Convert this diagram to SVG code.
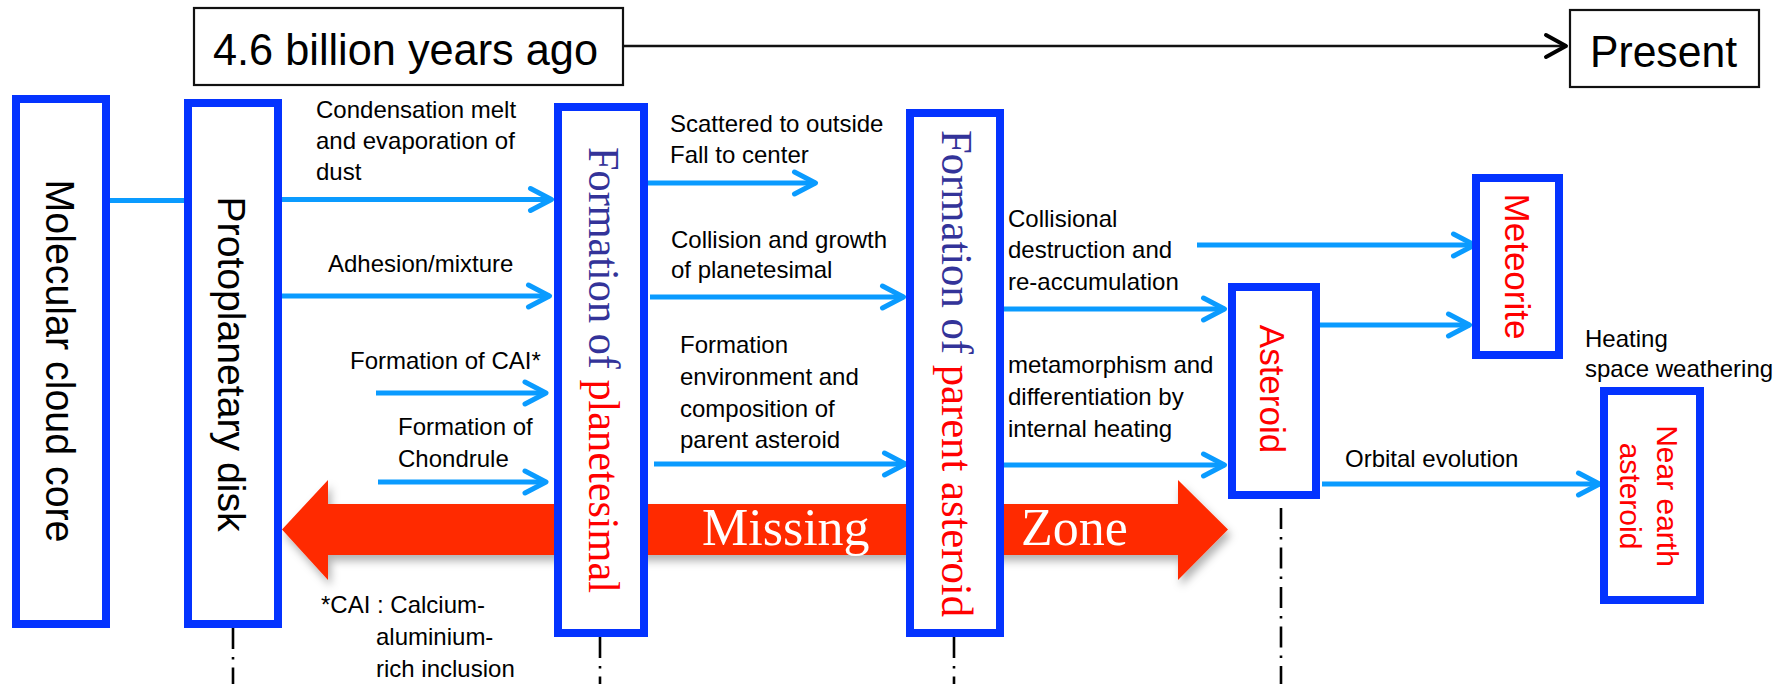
<svg xmlns="http://www.w3.org/2000/svg" width="1791" height="684" viewBox="0 0 1791 684">
<style>
.bg{fill:#ffffff}
.tbox{fill:#ffffff;stroke:#111111;stroke-width:2.2}
.ttl{font-family:"Liberation Sans",Arial,sans-serif;font-size:43.5px;fill:#000000}
.node{fill:#ffffff;stroke:#0433ff;stroke-width:8}
.vt{font-family:"Liberation Sans",Arial,sans-serif;fill:#000000}
.vs{font-family:"Liberation Serif","Times New Roman",serif;font-size:44px}
.red{fill:#ff0000}
.navy{fill:#333399}
.lbl{font-family:"Liberation Sans",Arial,sans-serif;font-size:24px;fill:#000000}
.conn{fill:none;stroke:#0a9bff;stroke-width:5}
.guide{fill:none;stroke:#000000;stroke-width:2.6;stroke-dasharray:21 8 2.5 8}
.miss{font-family:"Liberation Serif","Times New Roman",serif;font-size:52px;fill:#ffffff}
</style>
<defs>
<marker id="arr" viewBox="-30 -16 36 32" refX="0" refY="0" markerWidth="36" markerHeight="32" markerUnits="userSpaceOnUse" orient="auto">
<path d="M-21,-11 L0,0 L-21,11" fill="none" stroke="#0a9bff" stroke-width="5" stroke-linecap="round" stroke-linejoin="round"/>
</marker>
<marker id="arrk" viewBox="-30 -16 36 32" refX="0" refY="0" markerWidth="36" markerHeight="32" markerUnits="userSpaceOnUse" orient="auto">
<path d="M-20,-11 L0,0 L-20,11" fill="none" stroke="#000000" stroke-width="4" stroke-linecap="round" stroke-linejoin="round"/>
</marker>
<filter id="shadow" x="-5%" y="-30%" width="110%" height="170%">
<feDropShadow dx="3" dy="6" stdDeviation="4" flood-color="#000000" flood-opacity="0.3"/>
</filter>
</defs>
<rect class="bg" x="0" y="0" width="1791" height="684"/>

<g id="missing-zone">
<polygon points="282,529.5 328,480 328,504 1178,504 1178,480 1228,529.5 1178,580 1178,555 328,555 328,580" fill="#ff2a00" filter="url(#shadow)"/>
<text class="miss" x="702" y="545">Missing</text>
<text class="miss" x="1021" y="545">Zone</text>
</g>

<g id="guides">
<line class="guide" x1="233" y1="628" x2="233" y2="684"/>
<line class="guide" x1="600" y1="637" x2="600" y2="684"/>
<line class="guide" x1="954" y1="637" x2="954" y2="684"/>
<line class="guide" x1="1281" y1="508" x2="1281" y2="684"/>
</g>

<g id="connectors">
<line x1="623" y1="46" x2="1566" y2="46" stroke="#111111" stroke-width="2.6" marker-end="url(#arrk)"/>
<path class="conn" d="M110,200.5 H184"/>
<path class="conn" d="M282,199.5 H551.5" marker-end="url(#arr)"/>
<path class="conn" d="M282,296 H549.5" marker-end="url(#arr)"/>
<path class="conn" d="M376,393 H546" marker-end="url(#arr)"/>
<path class="conn" d="M378,482 H546" marker-end="url(#arr)"/>
<path class="conn" d="M648,183 H815.5" marker-end="url(#arr)"/>
<path class="conn" d="M650,297 H903.5" marker-end="url(#arr)"/>
<path class="conn" d="M654,464 H905.5" marker-end="url(#arr)"/>
<path class="conn" d="M1197,245 H1474.5" marker-end="url(#arr)"/>
<path class="conn" d="M1004,309 H1224.5" marker-end="url(#arr)"/>
<path class="conn" d="M1004,465 H1224.5" marker-end="url(#arr)"/>
<path class="conn" d="M1316,325 H1469.5" marker-end="url(#arr)"/>
<path class="conn" d="M1322,484 H1599.5" marker-end="url(#arr)"/>
<g id="connector-labels">
<text class="lbl" x="316" y="118">Condensation melt</text>
<text class="lbl" x="316" y="149">and evaporation of</text>
<text class="lbl" x="316" y="180">dust</text>
<text class="lbl" x="328" y="272">Adhesion/mixture</text>
<text class="lbl" x="350" y="369">Formation of CAI*</text>
<text class="lbl" x="398" y="435">Formation of</text>
<text class="lbl" x="398" y="467">Chondrule</text>
<text class="lbl" x="321" y="613">*CAI : Calcium-</text>
<text class="lbl" x="376" y="645">aluminium-</text>
<text class="lbl" x="376" y="677">rich inclusion</text>
<text class="lbl" x="670" y="132">Scattered to outside</text>
<text class="lbl" x="670" y="163">Fall to center</text>
<text class="lbl" x="671" y="248">Collision and growth</text>
<text class="lbl" x="671" y="278">of planetesimal</text>
<text class="lbl" x="680" y="353">Formation</text>
<text class="lbl" x="680" y="385">environment and</text>
<text class="lbl" x="680" y="417">composition of</text>
<text class="lbl" x="680" y="448">parent asteroid</text>
<text class="lbl" x="1008" y="227">Collisional</text>
<text class="lbl" x="1008" y="258">destruction and</text>
<text class="lbl" x="1008" y="290">re-accumulation</text>
<text class="lbl" x="1008" y="373">metamorphism and</text>
<text class="lbl" x="1008" y="405">differentiation by</text>
<text class="lbl" x="1008" y="437">internal heating</text>
<text class="lbl" x="1585" y="347">Heating</text>
<text class="lbl" x="1585" y="377">space weathering</text>
<text class="lbl" x="1345" y="467">Orbital evolution</text>
</g>
</g>

<g id="start-time">
<rect class="tbox" x="194" y="8" width="429" height="77"/>
<text class="ttl" x="213" y="65" textLength="385" lengthAdjust="spacingAndGlyphs">4.6 billion years ago</text>
</g>
<g id="present">
<rect class="tbox" x="1570" y="10" width="189" height="77"/>
<text class="ttl" x="1590" y="67" textLength="147" lengthAdjust="spacingAndGlyphs">Present</text>
</g>

<g id="molecular-cloud-core">
<rect class="node" x="16" y="99" width="90" height="525"/>
<text class="vt" font-size="40" text-anchor="middle" transform="translate(46,361) rotate(90)" textLength="363" lengthAdjust="spacingAndGlyphs">Molecular cloud core</text>
</g>
<g id="protoplanetary-disk">
<rect class="node" x="188" y="103" width="90" height="521"/>
<text class="vt" font-size="39" text-anchor="middle" transform="translate(218,364) rotate(90)" textLength="335" lengthAdjust="spacingAndGlyphs">Protoplanetary disk</text>
</g>
<g id="planetesimal">
<rect class="node" x="558" y="107" width="86" height="526"/>
<text class="vs" text-anchor="middle" transform="translate(589,370) rotate(90)" textLength="446" lengthAdjust="spacingAndGlyphs"><tspan class="navy">Formation of </tspan><tspan class="red">planetesimal</tspan></text>
</g>
<g id="parent-asteroid">
<rect class="node" x="910" y="113" width="90" height="520"/>
<text class="vs" text-anchor="middle" transform="translate(942,373.5) rotate(90)" textLength="487" lengthAdjust="spacingAndGlyphs"><tspan class="navy">Formation of </tspan><tspan class="red">parent asteroid</tspan></text>
</g>
<g id="asteroid">
<rect class="node" x="1232" y="287" width="84" height="208"/>
<text class="vt red" font-size="35" text-anchor="middle" transform="translate(1260,389) rotate(90)">Asteroid</text>
</g>
<g id="meteorite">
<rect class="node" x="1476" y="178" width="83" height="177"/>
<text class="vt red" font-size="35" text-anchor="middle" transform="translate(1505,266.5) rotate(90)">Meteorite</text>
</g>
<g id="near-earth-asteroid">
<rect class="node" x="1604" y="391" width="96" height="209"/>
<text class="vt red" font-size="30" text-anchor="middle" transform="translate(1657,496) rotate(90)">Near earth</text>
<text class="vt red" font-size="30" text-anchor="middle" transform="translate(1620,496) rotate(90)">asteroid</text>
</g>
</svg>
